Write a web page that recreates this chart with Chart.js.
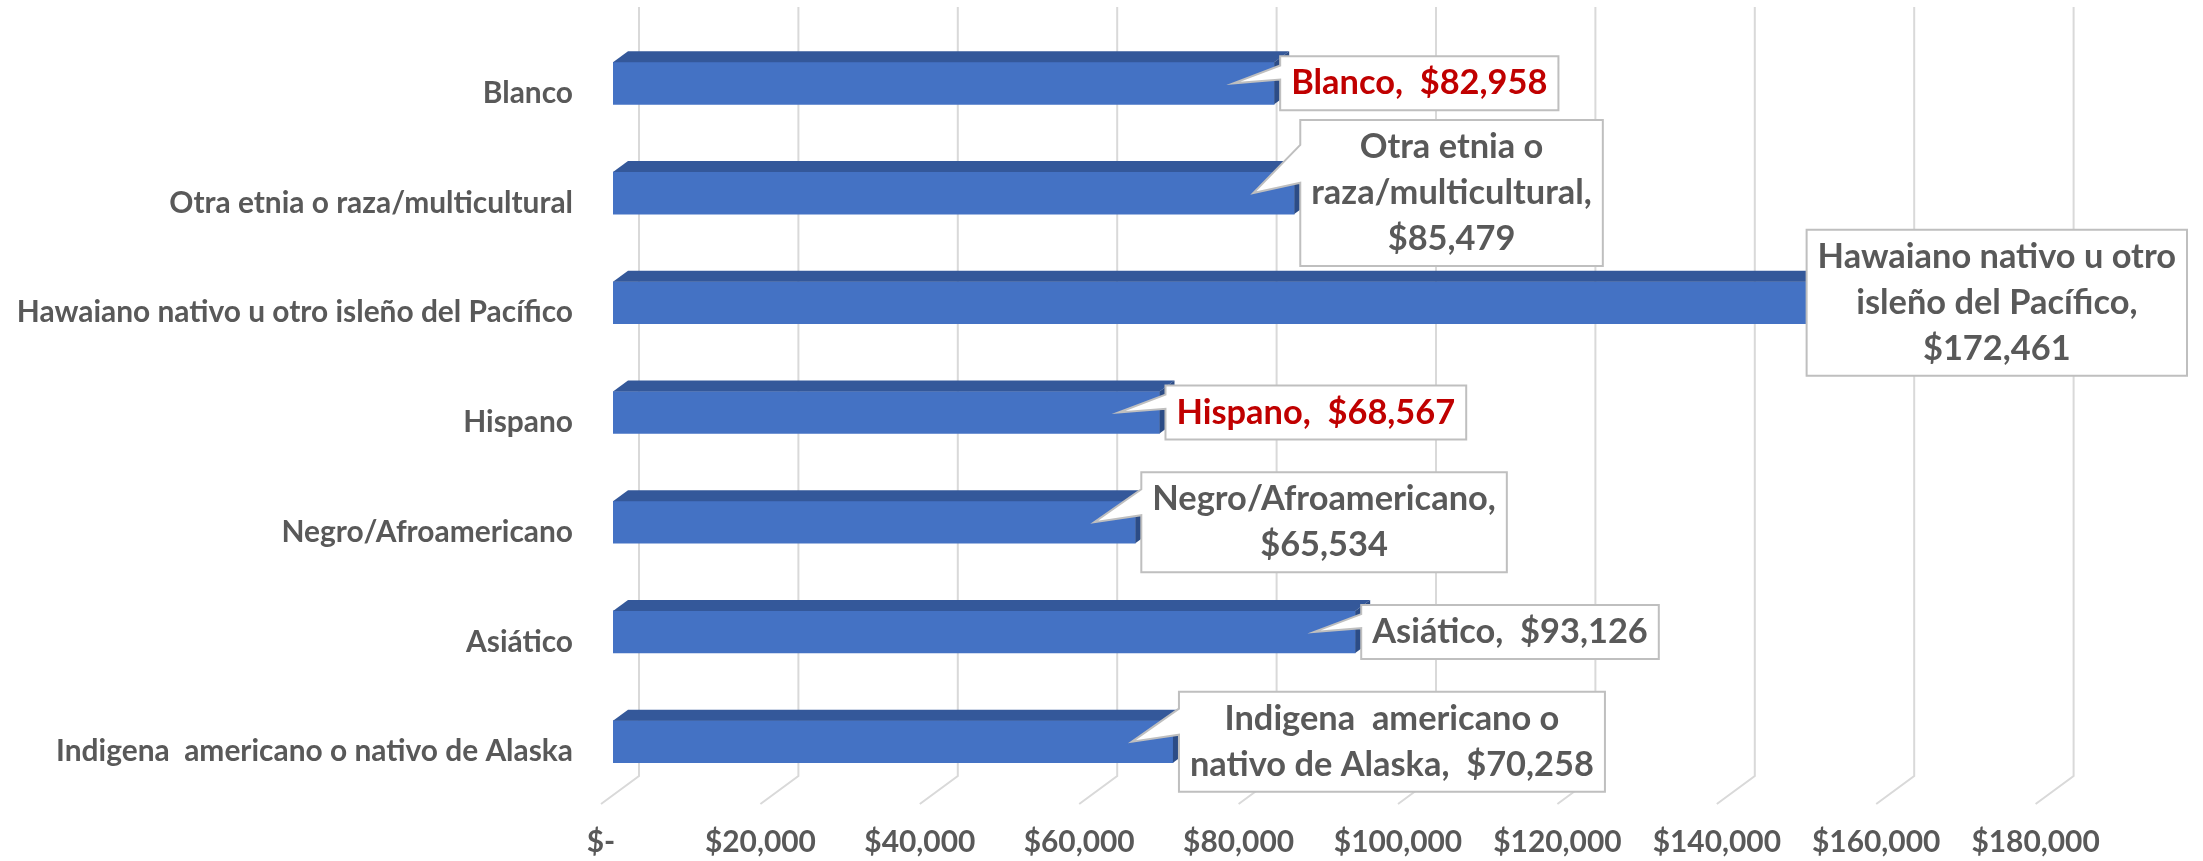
<!DOCTYPE html>
<html>
<head>
<meta charset="utf-8">
<script src="https://cdn.jsdelivr.net/npm/chart.js@4.4.1/dist/chart.umd.min.js"></script>
<style>
html,body{margin:0;padding:0;background:#ffffff;}
#wrap{width:2203px;height:861px;position:relative;}
</style>
</head>
<body>
<div id="wrap"><canvas id="c"></canvas></div>
<script>
// ---- data ----
const categories = [
  "Blanco",
  "Otra etnia o raza/multicultural",
  "Hawaiano nativo u otro isleño del Pacífico",
  "Hispano",
  "Negro/Afroamericano",
  "Asiático",
  "Indigena  americano o nativo de Alaska"
];
const incomes = [82958, 85479, 172461, 68567, 65534, 93126, 70258];
const tickLabels = ["$-", "$20,000", "$40,000", "$60,000", "$80,000", "$100,000", "$120,000", "$140,000", "$160,000", "$180,000"];
const calloutNames = [
  "Blanco",
  "Otra etnia o\nraza/multicultural",
  "Hawaiano nativo u otro\nisleño del Pacífico",
  "Hispano",
  "Negro/Afroamericano",
  "Asiático",
  "Indigena  americano o\nnativo de Alaska"
];
const valueOnOwnLine = [false, true, true, false, true, false, false];
const highlighted = [true, false, false, true, false, false, false];

// ---- styles ----
const FONT_FAMILY = 'Lato, "Open Sans", "Noto Sans", sans-serif';
const TEXT_COLOR = '#595959';
const RED = '#C00000';
const BAR_FRONT = '#4472C4';
const BAR_TOP = '#34589A';
const BAR_SIDE = '#2C4C86';
const GRID = '#d9d9d9';
const DX = 15, DY = 11;

const mctx = document.createElement('canvas').getContext('2d');
mctx.font = 'bold 100px ' + FONT_FAMILY;
const FS = Math.round(100 * 556 / mctx.measureText(categories[2]).width * 10) / 10;
const FS_CALLOUT = Math.round(FS * 1.15 * 10) / 10;
const CALLOUT_FONT = 'bold ' + FS_CALLOUT + 'px ' + FONT_FAMILY;

function fmtMoney(v) { return '$' + v.toLocaleString('en-US'); }

const grid3d = {
  id: 'grid3d',
  beforeDatasetsDraw(chart) {
    const xs = chart.scales.x, a = chart.chartArea, ctx = chart.ctx;
    ctx.save();
    ctx.strokeStyle = GRID;
    ctx.lineWidth = 2;
    xs.ticks.forEach(t => {
      const px = xs.getPixelForValue(t.value);
      ctx.beginPath();
      ctx.moveTo(px + 26, a.top - 21.5);
      ctx.lineTo(px + 26, a.bottom - 20.5);
      ctx.lineTo(px - 12, a.bottom + 7.5);
      ctx.stroke();
    });
    ctx.restore();
  }
};

const bar3d = {
  id: 'bar3d',
  afterDatasetsDraw(chart) {
    const ctx = chart.ctx;
    const meta = chart.getDatasetMeta(0);
    ctx.save();
    meta.data.forEach(el => {
      const p = el.getProps(['x', 'y', 'base', 'height'], true);
      const top = p.y - p.height / 2, bot = p.y + p.height / 2;
      ctx.fillStyle = BAR_TOP;
      ctx.beginPath();
      ctx.moveTo(p.base, top);
      ctx.lineTo(p.base + DX, top - DY);
      ctx.lineTo(p.x + DX, top - DY);
      ctx.lineTo(p.x, top);
      ctx.closePath();
      ctx.fill();
      ctx.fillStyle = BAR_SIDE;
      ctx.beginPath();
      ctx.moveTo(p.x, top);
      ctx.lineTo(p.x + DX, top - DY);
      ctx.lineTo(p.x + DX, bot - DY);
      ctx.lineTo(p.x, bot);
      ctx.closePath();
      ctx.fill();
    });
    ctx.restore();
  }
};

const callouts = {
  id: 'callouts',
  afterDatasetsDraw(chart) {
    const ctx = chart.ctx;
    const meta = chart.getDatasetMeta(0);
    ctx.save();
    ctx.font = CALLOUT_FONT;
    const LH = 46, PADV = 4, PADH = 11;
    meta.data.forEach((el, i) => {
      const p = el.getProps(['x', 'y'], true);
      const txt = calloutNames[i] + ',' + (valueOnOwnLine[i] ? '\n' : '  ') + fmtMoney(incomes[i]);
      const lines = txt.split('\n');
      const w = Math.max(...lines.map(l => ctx.measureText(l).width)) + 2 * PADH;
      const h = lines.length * LH + 2 * PADV;
      const L = Math.min(p.x + 6, chart.width - 16 - w);
      const T = p.y - h / 2;
      const R = L + w, B = T + h;
      const tipX = p.x - 41, tipY = p.y;
      ctx.beginPath();
      ctx.moveTo(L, T);
      ctx.lineTo(R, T);
      ctx.lineTo(R, B);
      ctx.lineTo(L, B);
      if (tipX < L - 5) {
        ctx.lineTo(L, T + 0.43 * h);
        ctx.lineTo(tipX, tipY);
        ctx.lineTo(L, T + 0.17 * h);
      }
      ctx.closePath();
      ctx.fillStyle = '#ffffff';
      ctx.fill();
      ctx.strokeStyle = '#bfbfbf';
      ctx.lineWidth = 2;
      ctx.stroke();
      ctx.fillStyle = highlighted[i] ? RED : TEXT_COLOR;
      ctx.textAlign = 'center';
      ctx.textBaseline = 'middle';
      lines.forEach((l, k) => {
        ctx.fillText(l, L + w / 2, T + PADV + LH / 2 + k * LH);
      });
    });
    ctx.restore();
  }
};

new Chart(document.getElementById('c'), {
  type: 'bar',
  data: {
    labels: categories,
    datasets: [{
      data: incomes,
      backgroundColor: BAR_FRONT,
      borderWidth: 0,
      barThickness: 42
    }]
  },
  options: {
    indexAxis: 'y',
    responsive: true,
    maintainAspectRatio: false,
    animation: false,
    layout: { padding: { top: 28.5, right: 155.4, left: 0, bottom: 0 } },
    plugins: { legend: { display: false }, tooltip: { enabled: false } },
    scales: {
      x: {
        type: 'linear',
        min: 0,
        max: 180000,
        grid: { display: false, drawTicks: false },
        border: { display: false },
        ticks: {
          stepSize: 20000,
          autoSkip: false,
          maxRotation: 0,
          labelOffset: -12,
          padding: 28,
          color: TEXT_COLOR,
          font: { family: FONT_FAMILY, size: FS, weight: 'bold' },
          callback: (v, i) => tickLabels[i]
        },
        afterFit: s => { s.height = 64.5; s.paddingLeft = 0; s.paddingRight = 0; }
      },
      y: {
        grid: { display: false, drawTicks: false },
        border: { display: false },
        ticks: {
          padding: 40,
          labelOffset: 10,
          color: TEXT_COLOR,
          font: { family: FONT_FAMILY, size: FS, weight: 'bold' }
        },
        afterFit: s => { s.width = 613; s.paddingTop = 0; s.paddingBottom = 0; }
      }
    }
  },
  plugins: [grid3d, bar3d, callouts]
});
</script>
</body>
</html>
